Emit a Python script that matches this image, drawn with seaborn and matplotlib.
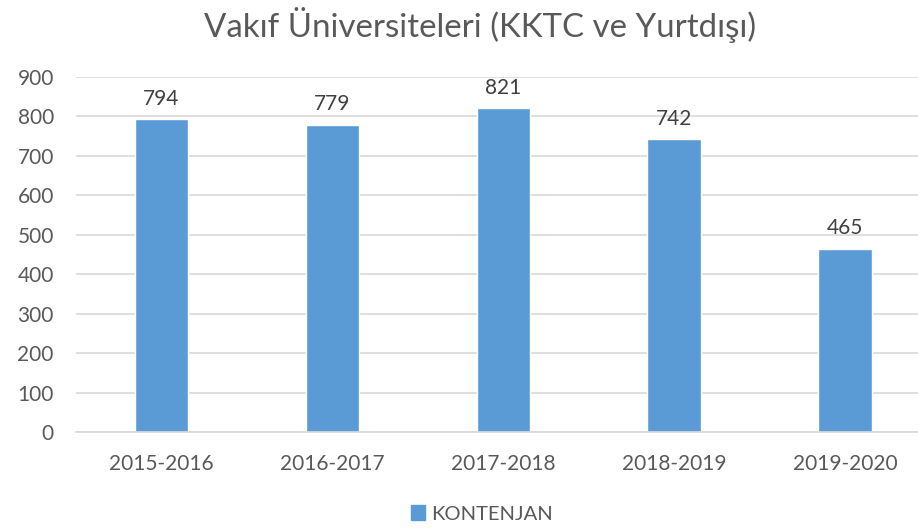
import numpy as np
import pandas as pd
import matplotlib.pyplot as plt
import seaborn as sns
from matplotlib.patches import Patch

# data
years = ["2015-2016", "2016-2017", "2017-2018", "2018-2019", "2019-2020"]
kontenjan = [794, 779, 821, 742, 465]

df = pd.DataFrame({"Yil": years, "KONTENJAN": kontenjan})

sns.set_style("white")
plt.rcParams["font.family"] = ["Lato", "DejaVu Sans"]

bar_color = "#5B9BD5"
text_color = "#595959"

fig = plt.figure(figsize=(9.18, 5.28), dpi=100)
ax = fig.add_axes([76 / 918, 1 - 432 / 528, (930.5 - 76) / 918, (432 - 77) / 528])

sns.barplot(data=df, x="Yil", y="KONTENJAN", color=bar_color, width=0.313,
            saturation=1, ax=ax)

ax.set_ylim(0, 900)
ax.set_xlim(-0.5, 4.5)
ax.set_yticks(range(0, 901, 100))
ax.yaxis.grid(True, color="#D9D9D9", linewidth=1.2)
ax.set_axisbelow(True)
for s in ["top", "right", "left"]:
    ax.spines[s].set_visible(False)
ax.spines["bottom"].set_color("#D9D9D9")
ax.spines["bottom"].set_linewidth(1.2)
ax.tick_params(axis="both", length=0, labelsize=15, labelcolor=text_color)
ax.tick_params(axis="x", pad=16)
ax.tick_params(axis="y", pad=16)
ax.set_xlabel("")
ax.set_ylabel("")

# value labels
for i, v in enumerate(kontenjan):
    ax.text(i, v + 26, str(v), ha="center", va="bottom", fontsize=15, color="#404040")

fig.text(480 / 918, 1 - 25 / 528, "Vakıf Üniversiteleri (KKTC ve Yurtdışı)",
         ha="center", va="center", fontsize=23.8, color=text_color)

fig.legend(handles=[Patch(color=bar_color, label="KONTENJAN")],
           loc="center", bbox_to_anchor=(482 / 918, 1 - 514 / 528), frameon=False,
           fontsize=14.5, labelcolor=text_color, handlelength=0.7, handleheight=0.7,
           handletextpad=0.3)

fig.savefig("out.png", dpi=100)
